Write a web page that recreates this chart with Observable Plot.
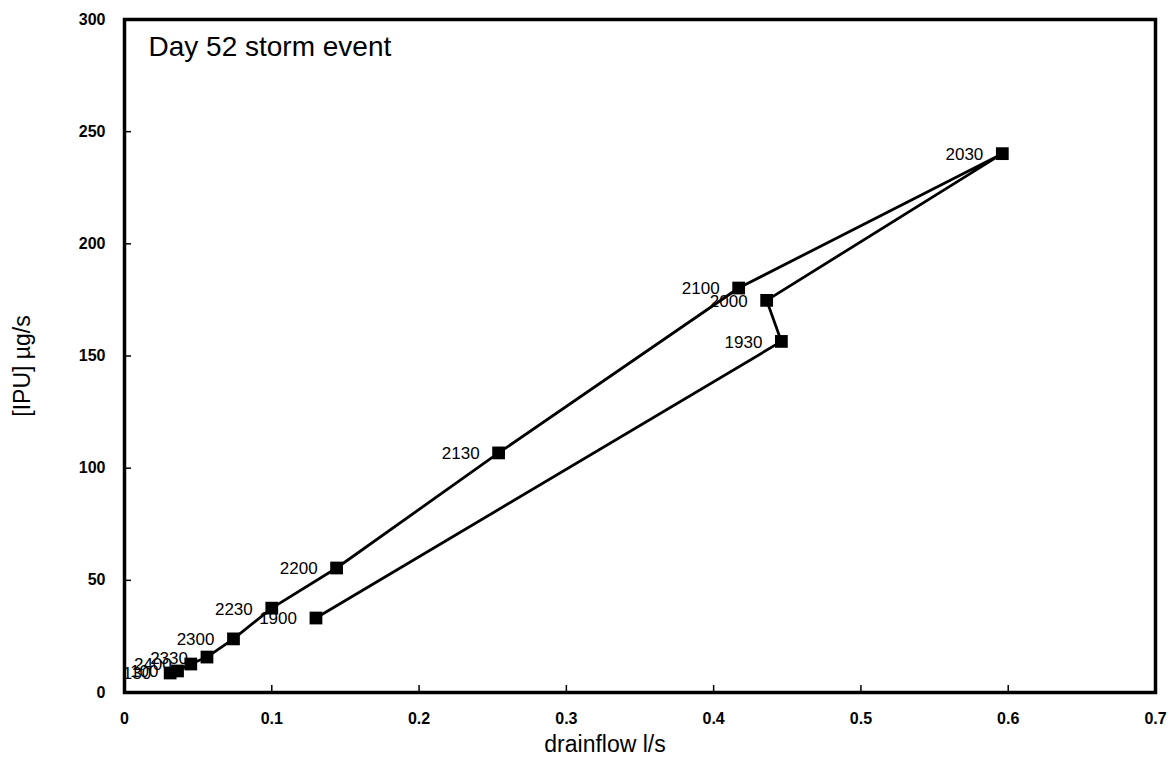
<!DOCTYPE html>
<html><head><meta charset="utf-8">
<script src="https://cdn.jsdelivr.net/npm/d3@7"></script>
<script src="https://cdn.jsdelivr.net/npm/@observablehq/plot@0.6"></script>
<style>body{margin:0;background:#fff}</style>
</head><body><div id="chart"></div>
<script>
const times = ["1900","1930","2000","2030","2100","2130","2200","2230","2300","2330","2400","100","130"];
const drainflow = [0.130,0.446,0.436,0.596,0.417,0.254,0.144,0.100,0.074,0.056,0.045,0.036,0.031];
const ipu = [33.2,156.5,174.8,240.2,180.3,106.8,55.5,37.6,23.9,15.8,12.7,9.6,8.7];
const xTicks = [0,0.1,0.2,0.3,0.4,0.5,0.6,0.7];
const yTicks = [0,50,100,150,200,250,300];
const title = "Day 52 storm event";
const xLabel = "drainflow l/s";
const yLabel = "[IPU] µg/s";

const data = times.map((t,i)=>({time:t, x:drainflow[i], y:ipu[i]}));

const chart = Plot.plot({
  width:1171, height:761,
  marginLeft:124, marginRight:16, marginTop:19, marginBottom:69,
  style:{fontFamily:"'Liberation Sans', Arial, sans-serif", background:"#fff", color:"#000"},
  x:{domain:[0,0.7]},
  y:{domain:[0,300]},
  marks:[
    Plot.axisX(xTicks, {tickSize:7, dy:-7, text:null, strokeWidth:1.5, label:null}),
    Plot.axisX(xTicks, {tickSize:0, tickPadding:20, tickFormat:d=>String(d), fontSize:16, fontWeight:"bold", label:null}),
    Plot.axisY(yTicks, {tickSize:7, dx:7, text:null, strokeWidth:1.5, label:null}),
    Plot.axisY(yTicks, {tickSize:0, tickPadding:19, fontSize:16, fontWeight:"bold", label:null}),
    Plot.frame({strokeWidth:3.5}),
    Plot.line(data, {x:"x", y:"y", strokeWidth:2.8}),
    Plot.dot(data, {x:"x", y:"y", symbol:"square", r:7.2, fill:"black", stroke:null}),
    Plot.text(data, {x:"x", y:"y", text:"time", textAnchor:"end", dx:-19, dy:1, fontSize:17}),
    Plot.text([title], {frameAnchor:"top-left", dx:24, dy:28, fontSize:28, textAnchor:"start", lineAnchor:"middle"}),
    Plot.text([xLabel], {frameAnchor:"bottom", dx:-35, dy:52, fontSize:23, lineAnchor:"middle"}),
    Plot.text([yLabel], {frameAnchor:"left", dx:-102, dy:10, rotate:-90, fontSize:23, textAnchor:"middle", lineAnchor:"middle"})
  ]
});
document.getElementById("chart").append(chart);
</script>
</body></html>
